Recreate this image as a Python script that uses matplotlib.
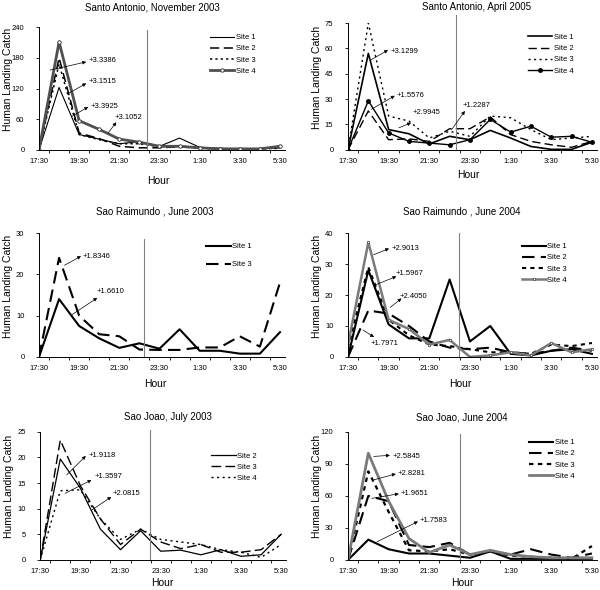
import matplotlib
matplotlib.use('Agg')
import matplotlib.pyplot as plt

plt.rcParams['font.family'] = ['Liberation Sans', 'DejaVu Sans']

hours = ['17:30', '18:30', '19:30', '20:30', '21:30', '22:30', '23:30',
         '0:30', '1:30', '2:30', '3:30', '4:30', '5:30']

# Santo Antonio, November 2003
sa03_s1 = [0, 122, 30, 21, 12, 16, 7, 23, 5, 3, 2, 2, 4]
sa03_s2 = [0, 180, 33, 22, 7, 4, 4, 6, 3, 2, 2, 2, 5]
sa03_s3 = [0, 168, 30, 20, 12, 12, 6, 8, 4, 2, 2, 2, 3]
sa03_s4 = [0, 211, 57, 40, 21, 15, 7, 7, 4, 2, 2, 2, 7]

# Santo Antonio, April 2005
sa05_s1 = [0, 57, 12, 9.5, 3.5, 8, 6, 11.5, 7, 2, 0.3, 0.3, 4.5]
sa05_s2 = [0, 23, 6, 6.5, 5, 12.5, 12.5, 19.5, 9, 5, 3, 1.5, 5]
sa05_s3 = [0, 75, 20, 17, 7, 11, 8, 20, 19, 12, 6, 7, 8]
sa05_s4 = [0, 29, 10, 5, 4, 3, 6, 18, 10.5, 14, 7.5, 8, 4.5]

# Sao Raimundo, June 2003
sr03_s1 = [0, 14, 7.5, 4.5, 2.2, 3.3, 2, 6.7, 1.5, 1.5, 0.8, 0.8, 6]
sr03_s3 = [0, 24, 10, 5.5, 5, 1.8, 1.7, 1.7, 2.3, 2.3, 5, 2.5, 18]

# Sao Raimundo, June 2004
sr04_s1 = [0, 28, 10.5, 6, 6, 25, 5, 10, 1, 0.5, 2, 2.5, 1]
sr04_s2 = [0, 15, 14, 10, 5, 3, 2.5, 3, 1.5, 1, 2, 3, 2]
sr04_s3 = [3, 29, 12, 7, 4, 3.5, 2.5, 1.5, 1.5, 1, 4, 3.5, 4.5]
sr04_s4 = [4, 37, 12, 9, 4, 5.5, 0, 0.5, 1.5, 0.5, 4.5, 1.5, 2.5]

# Sao Joao, July 2003
sj03_s2 = [0, 19.7, 14, 6, 2, 5.7, 1.7, 1.9, 1, 2, 0.7, 1, 5]
sj03_s3 = [0, 23.4, 14.5, 8, 3, 6, 3.5, 2.2, 3, 1.5, 1.5, 2, 5]
sj03_s4 = [0, 13.5, 13.7, 8, 4, 6, 4, 3.5, 3, 2, 1.5, 0.5, 3]

# Sao Joao, June 2004
sj04_s1 = [0, 19, 10, 6, 6, 4, 2, 8, 1, 1, 1, 1, 1]
sj04_s2 = [0, 60, 55, 14, 12, 16, 5, 8, 5, 10, 5, 2, 6]
sj04_s3 = [0, 83, 45, 9, 8, 10, 5, 8, 4, 3, 2, 1, 13]
sj04_s4 = [0, 100, 55, 20, 7, 14, 5, 9, 5, 3, 2, 2, 2]

K = 'black'
G = '#7a7a7a'

# title / "Hour" centres are given in pixels from the top-left corner
panels = [
    dict(title='Santo Antonio, November 2003', tpos=(152, 7), hpos=(158, 181),
         ymax=240, ystep=60, vline=(5.4, 234),
         rect=[0.065, 0.746, 0.41, 0.208], leg=(0.88, 0.945), lsp=0.5,
         series=[('Site 1', sa03_s1, dict(color=K, lw=0.8)),
                 ('Site 2', sa03_s2, dict(color=K, lw=1.1, dashes=(6, 3))),
                 ('Site 3', sa03_s3, dict(color=K, lw=1.1, dashes=(1.5, 2))),
                 ('Site 4', sa03_s4, dict(color='#505050', lw=2, marker='o', ms=2.5,
                                          mfc='white', mec='#303030', mew=0.6))],
         notes=[('+3.3386', (0.55, 156), (2.35, 172), (2.45, 174)),
                ('+3.1515', (1.45, 110), (2.35, 130), (2.45, 133)),
                ('+3.3925', (1.62, 65), (2.45, 84), (2.57, 84)),
                ('+3.1052', (3.44, 33), (3.85, 54), (3.77, 64))]),
    dict(title='Santo Antonio, April 2005', tpos=(477, 7), hpos=(468, 175),
         ymax=75, ystep=15, vline=(5.3, 80),
         rect=[0.58, 0.746, 0.415, 0.215], leg=(0.905, 0.915), lsp=0.5,
         series=[('Site 1', sa05_s1, dict(color=K, lw=1.2)),
                 ('Site 2', sa05_s2, dict(color=K, lw=1.0, dashes=(6, 3))),
                 ('Site 3', sa05_s3, dict(color=K, lw=1.0, dashes=(1.5, 2.5))),
                 ('Site 4', sa05_s4, dict(color=K, lw=1.0, marker='o', ms=2.5))],
         notes=[('+3.1299', (1.1, 53), (1.97, 59), (2.08, 58)),
                ('+1.5576', (1.15, 24), (2.3, 32), (2.38, 32)),
                ('+2.9945', (2.5, 13), (3.1, 16), (3.2, 22)),
                ('+1.2287', (5.1, 12), (5.75, 23), (5.65, 26))]),
    dict(title='Sao Raimundo , June 2003', tpos=(155, 212), hpos=(155, 384),
         ymax=30, ystep=10, vline=(5.25, 28.5),
         rect=[0.065, 0.395, 0.41, 0.21], leg=(0.865, 0.92), lsp=1.4,
         series=[('Site 1', sr03_s1, dict(color=K, lw=1.5)),
                 ('Site 3', sr03_s3, dict(color=K, lw=1.5, dashes=(6, 3)))],
         notes=[('+1.8346', (1.27, 22.2), (2.09, 24.4), (2.17, 24.4)),
                ('+1.6610', (1.6, 10.1), (2.9, 14.3), (2.88, 15.8))]),
    dict(title='Sao Raimundo , June 2004', tpos=(462, 212), hpos=(460, 384),
         ymax=40, ystep=10, vline=(5.47, 40),
         rect=[0.58, 0.395, 0.415, 0.21], leg=(0.88, 0.92), lsp=0.5,
         series=[('Site 1', sr04_s1, dict(color=K, lw=1.5)),
                 ('Site 2', sr04_s2, dict(color=K, lw=1.5, dashes=(6, 3))),
                 ('Site 3', sr04_s3, dict(color=K, lw=1.5, dashes=(2, 2))),
                 ('Site 4', sr04_s4, dict(color=G, lw=1.8, marker='s', ms=2,
                                          mfc='white', mec='#555555', mew=0.6))],
         notes=[('+2.9013', (1.26, 33), (2.02, 35), (2.13, 35)),
                ('+1.5967', (1.4, 23.4), (2.38, 26), (2.35, 27)),
                ('+2.4050', (2.08, 16), (2.63, 18.9), (2.55, 19.5)),
                ('+1.7971', (0.74, 8.7), (1.28, 6.4), (1.13, 4.3))]),
    dict(title='Sao Joao, July 2003', tpos=(168, 417), hpos=(162, 583),
         ymax=25, ystep=5, vline=(5.47, 25.4),
         rect=[0.067, 0.051, 0.41, 0.217], leg=(0.88, 0.84), lsp=0.5,
         series=[('Site 2', sj03_s2, dict(color=K, lw=0.9)),
                 ('Site 3', sj03_s3, dict(color=K, lw=1.0, dashes=(7, 3))),
                 ('Site 4', sj03_s4, dict(color=K, lw=1.0, dashes=(1.5, 2.5)))],
         notes=[('+1.9118', (1.32, 16.6), (2.27, 20.3), (2.39, 20.4)),
                ('+1.3597', (1.24, 13), (2.55, 15.6), (2.72, 16.3)),
                ('+2.0815', (2.55, 9.7), (3.54, 12.3), (3.62, 13))]),
    dict(title='Sao Joao, June 2004', tpos=(462, 417), hpos=(462, 583),
         ymax=120, ystep=30, vline=(5.49, 118),
         rect=[0.58, 0.051, 0.415, 0.217], leg=(0.91, 0.945), lsp=0.5,
         series=[('Site 1', sj04_s1, dict(color=K, lw=1.5)),
                 ('Site 2', sj04_s2, dict(color=K, lw=1.5, dashes=(6, 3))),
                 ('Site 3', sj04_s3, dict(color=K, lw=1.6, dashes=(2, 2))),
                 ('Site 4', sj04_s4, dict(color=G, lw=2))],
         notes=[('+2.5845', (1.26, 97), (2.06, 98), (2.18, 97)),
                ('+2.8281', (1.26, 75), (2.35, 80.6), (2.43, 81)),
                ('+1.9651', (1.17, 57.7), (2.5, 62), (2.58, 62)),
                ('+1.7583', (1.43, 17), (3.44, 36), (3.52, 37))]),
]

W, H = 600, 590
fig = plt.figure(figsize=(W / 100, H / 100), dpi=100)
x = list(range(len(hours)))

for p in panels:
    ax = fig.add_axes(p['rect'])
    for name, vals, st in p['series']:
        ax.plot(x, vals, label=name, **st)
    vx, vtop = p['vline']
    ax.plot([vx, vx], [0, vtop], color='#808080', lw=0.8, clip_on=False)

    for txt, start, end, tp in p['notes']:
        ax.annotate('', xy=end, xytext=start,
                    arrowprops=dict(arrowstyle='-|>', lw=0.5, color='k',
                                    mutation_scale=5, shrinkA=0, shrinkB=0))
        ax.text(tp[0], tp[1], txt, fontsize=5.5, va='center', ha='left')

    ax.set_xlim(0, 12.25)
    ax.set_ylim(0, p['ymax'])
    ax.set_yticks(range(0, p['ymax'] + 1, p['ystep']))
    ax.set_xticks([i + 0.5 for i in range(12)])
    ax.set_xticklabels([])
    ax.set_xticks(x[::2], minor=True)
    ax.set_xticklabels(hours[::2], minor=True)
    ax.tick_params(axis='x', which='major', length=2.5, width=0.6, direction='out')
    ax.tick_params(axis='x', which='minor', length=0, pad=6, labelsize=5.5)
    ax.tick_params(axis='y', length=2.5, width=0.6, pad=8, labelsize=5.5)
    for s in ['top', 'right']:
        ax.spines[s].set_visible(False)
    for s in ['left', 'bottom']:
        ax.spines[s].set_linewidth(0.7)

    fig.text(p['tpos'][0] / W, 1 - p['tpos'][1] / H, p['title'], fontsize=7,
             ha='center', va='center')
    fig.text(p['hpos'][0] / W, 1 - p['hpos'][1] / H, 'Hour', fontsize=7.5,
             ha='center', va='center')
    ax.set_ylabel('Human Landing Catch', fontsize=7.5)
    ax.yaxis.set_label_coords(-0.105, 0.57)

    ax.legend(loc='upper right', bbox_to_anchor=p['leg'], frameon=False,
              fontsize=5.5, handlelength=3.2, handletextpad=0.2, borderpad=0,
              borderaxespad=0, labelspacing=p['lsp'])

fig.savefig('out.png', dpi=100)
